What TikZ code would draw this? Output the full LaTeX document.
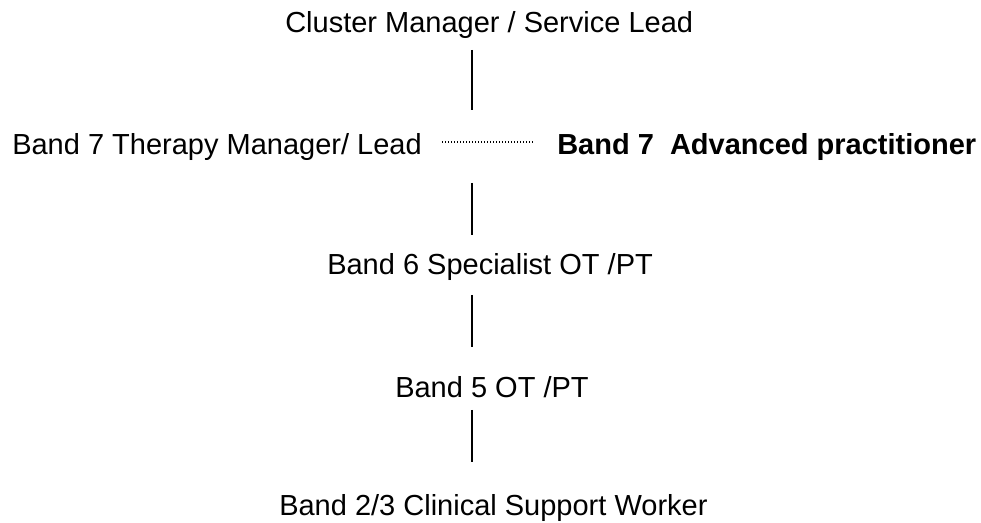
\documentclass[tikz,border=0pt]{standalone}
\usepackage{fontspec}
\setmainfont{Liberation Sans}
\usepackage{tikz}
\definecolor{ink}{RGB}{0, 0, 0}
\tikzset{
  lvl/.style={anchor=base west, inner sep=0pt, text=ink,
    font=\fontsize{21.75}{26}\selectfont},
  link/.style={draw=ink, line width=1.1pt},
  dotlink/.style={draw=ink, line width=0.9pt, dash pattern=on 0.75pt off 1.5pt}
}

\begin{document}
\begin{tikzpicture}[x=0.75pt, y=-0.75pt]

  \useasboundingbox (0, 0) rectangle (981, 523);

  \node[lvl] (cluster) at (285, 33)  {Cluster Manager / Service Lead};
  \node[lvl] (mgr)     at (12, 155)  {Band 7 Therapy Manager/ Lead};
  \node[lvl, font=\fontsize{21.75}{26}\selectfont\bfseries] (adv) at (557, 155)
    {Band 7\ \ Advanced practitioner};
  \node[lvl] (spec)    at (327, 275) {Band 6 Specialist OT /PT};
  \node[lvl] (ot)      at (395, 398) {Band 5 OT /PT};
  \node[lvl] (csw)     at (279, 515) {Band 2/3 Clinical Support Worker};

  \coordinate (spine) at (472, 0);

  % line management
  \draw[link, shorten <=12.75pt, shorten >=33.75pt]
    (cluster.base -| spine) -- (mgr.base -| spine);
  \draw[link, shorten <=21pt, shorten >=30pt]
    (mgr.base -| spine) -- (spec.base -| spine);
  \draw[link, shorten <=15pt, shorten >=38.25pt]
    (spec.base -| spine) -- (ot.base -| spine);
  \draw[link, shorten <=9pt, shorten >=39.75pt]
    (ot.base -| spine) -- (csw.base -| spine);

  % professional link
  \draw[dotlink, shorten <=15pt, shorten >=16.5pt]
    ([yshift=9.75pt]mgr.base east) -- ([yshift=9.75pt]adv.base west);

\end{tikzpicture}
\end{document}
